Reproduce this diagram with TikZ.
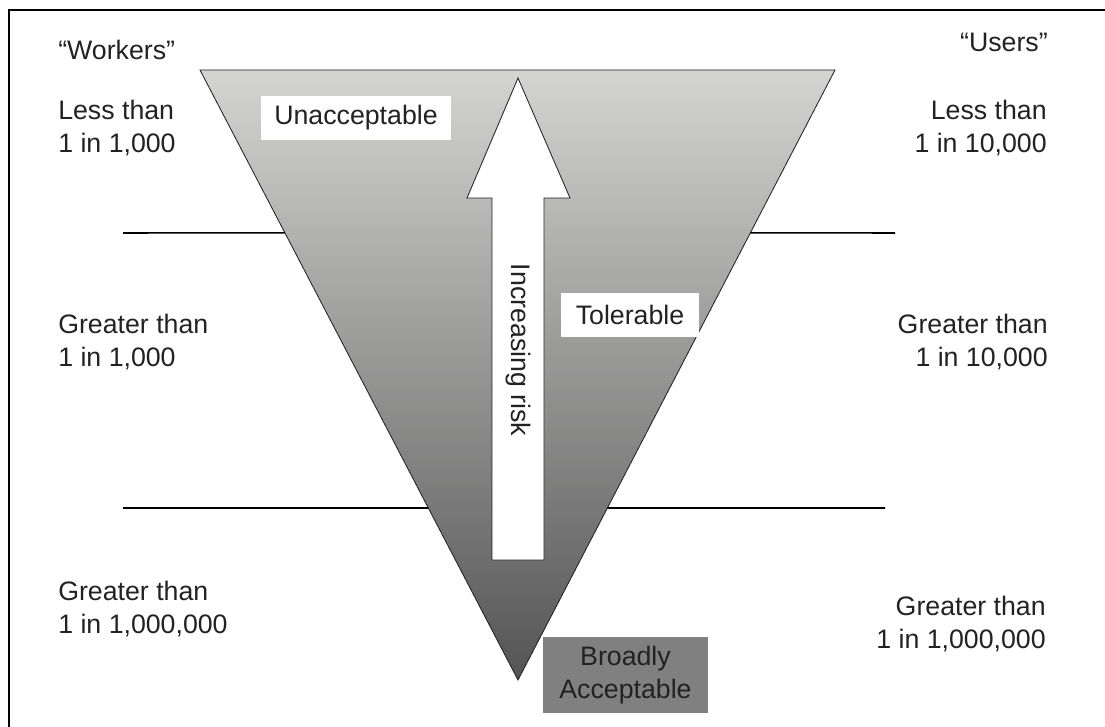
\documentclass[tikz,border=0pt]{standalone}
\usepackage{fontspec}
\setmainfont{Liberation Sans}
\usepackage{xcolor}
\usepackage{tikz}
\usetikzlibrary{calc}
\definecolor{inkgray}{RGB}{34,34,34}
\definecolor{topgray}{RGB}{212,213,211}
\definecolor{lowgray}{RGB}{84,84,84}
\definecolor{boxgray}{RGB}{128,128,128}

\begin{document}
\begin{tikzpicture}[x=0.025cm, y=-0.025cm,
	lbl/.style={font=\fontsize{19}{23}\selectfont, text=inkgray, inner sep=0pt},
	zonebox/.style={shape=rectangle, fill=white, font=\fontsize{19}{23}\selectfont, text=inkgray, inner sep=0pt},
	band/.style={line width=1.1pt}]
		% Frame, funnel, arrow, bands and labels:
		\clip (0, 0) rectangle (1105, 727);
		\draw[line width=1.2pt] (9, 10) rectangle (1120, 745);
		\coordinate (TL) at (200, 70);
		\coordinate (TR) at (835, 70);
		\coordinate (Apex) at (518, 680);
		\shade[top color=topgray, bottom color=lowgray] (TL) -- (TR) -- (Apex) -- cycle;
		\draw[draw=inkgray, line width=0.6pt] (TL) -- (TR) -- (Apex) -- cycle;
		\coordinate (LU) at ($(TL)!0.267!(Apex)$);
		\coordinate (RU) at ($(TR)!0.267!(Apex)$);
		\coordinate (LL) at ($(TL)!0.718!(Apex)$);
		\coordinate (RL) at ($(TR)!0.718!(Apex)$);
		\coordinate (LUend) at (123, 233);
		\coordinate (RUend) at (895, 233);
		\coordinate (LLend) at (123, 508);
		\coordinate (RLend) at (885, 508);
		\draw[band] (LUend) -- (LU);
		\draw[band] (RU) -- (RUend);
		\draw[band] (LLend) -- (LL);
		\draw[band] (RL) -- (RLend);
		\coordinate (Tip) at (518, 78);
		\draw[draw=inkgray, fill=white, line width=0.6pt] (Tip) -- (570, 198) -- (544, 198) -- (544, 560) -- (492, 560) -- (492, 198) -- (467, 198) -- cycle;
		\node[lbl, rotate=-90](N1) at (518, 350){Increasing risk};
		\node[zonebox, minimum width=4.75cm, minimum height=1.1cm](N2) at (356, 118){Unacceptable};
		\node[zonebox, minimum width=3.45cm, minimum height=1.1cm](N3) at (630, 315){Tolerable};
		\node[zonebox, fill=boxgray, align=center, minimum width=4.125cm, minimum height=1.9cm](N4) at (625.5, 675){Broadly\\Acceptable};
		\node[lbl, anchor=west](N5) at (58, 50){``Workers''};
		\node[lbl, anchor=west, align=left](N6) at (58, 128){Less than\\1 in 1,000};
		\node[lbl, anchor=west, align=left](N7) at (58, 342){Greater than\\1 in 1,000};
		\node[lbl, anchor=west, align=left](N8) at (58, 609){Greater than\\1 in 1,000,000};
		\node[lbl, anchor=east](N9) at (1048, 42){``Users''};
		\node[lbl, anchor=east, align=right](N10) at (1047, 128){Less than\\1 in 10,000};
		\node[lbl, anchor=east, align=right](N11) at (1048, 342){Greater than\\1 in 10,000};
		\node[lbl, anchor=east, align=right](N12) at (1046, 624){Greater than\\1 in 1,000,000};
	\end{tikzpicture}
\end{document}
